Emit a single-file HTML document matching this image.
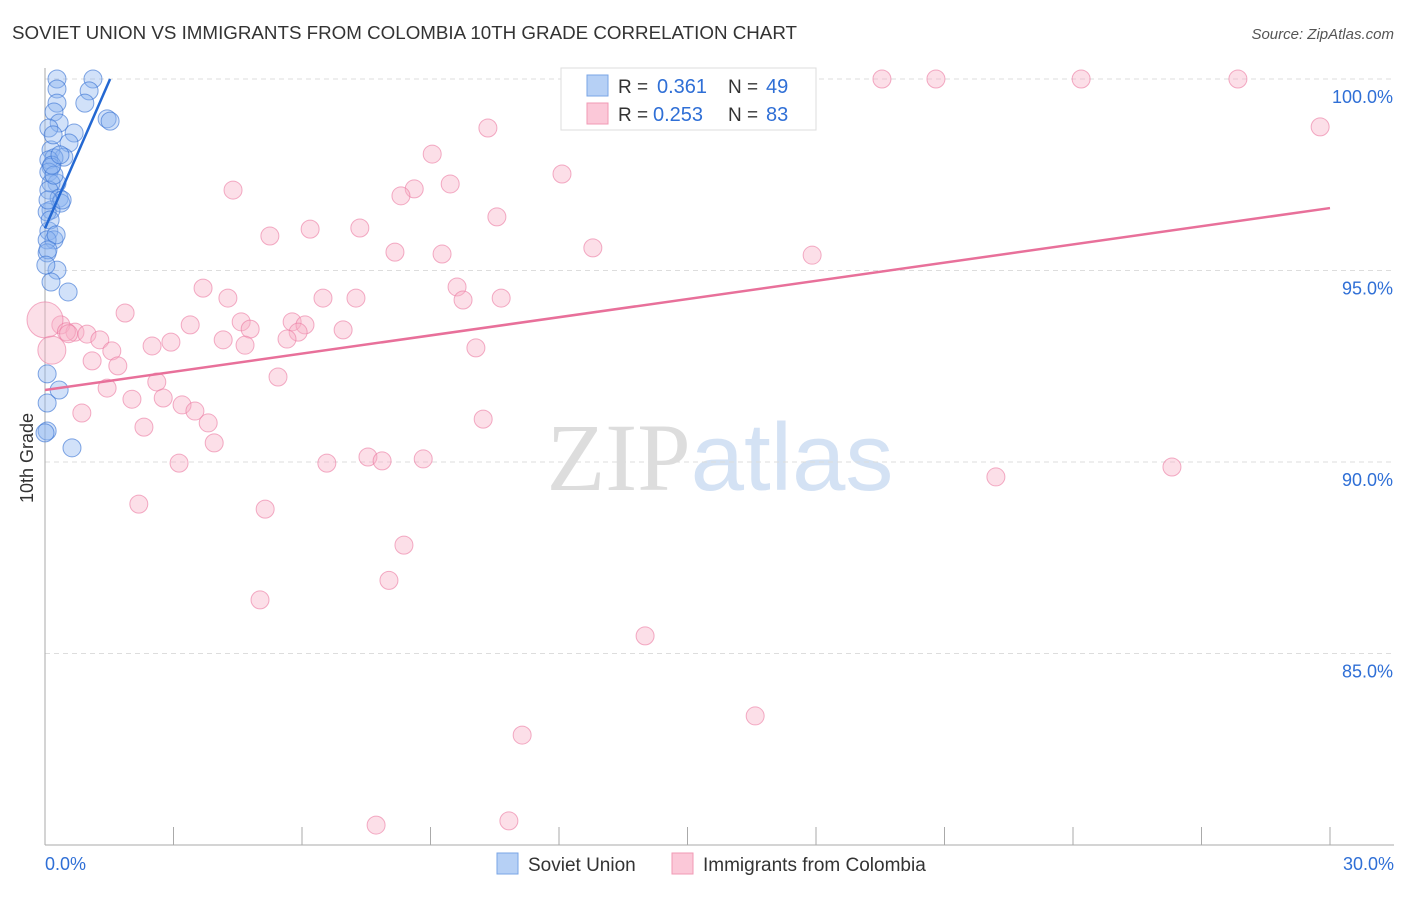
<!DOCTYPE html>
<html><head><meta charset="utf-8"><style>
body{margin:0;background:#fff;font-family:"Liberation Sans",sans-serif}
svg text{font-family:"Liberation Sans",sans-serif}
</style></head><body>
<svg id="chart" width="1406" height="892" xmlns="http://www.w3.org/2000/svg">
<text x="12" y="39" font-size="18" fill="#333" textLength="785" lengthAdjust="spacingAndGlyphs">SOVIET UNION VS IMMIGRANTS FROM COLOMBIA 10TH GRADE CORRELATION CHART</text>
<text x="1394" y="39" font-size="15" fill="#555" text-anchor="end" font-style="italic">Source: ZipAtlas.com</text>
<text x="720" y="490" font-size="96" text-anchor="middle"><tspan fill="#ddd" font-family="Liberation Serif">ZIP</tspan><tspan fill="#d4e2f4">atlas</tspan></text>
<g id="grid"></g><g id="axes"></g><g id="pts"></g><g id="lines"></g>
<text transform="translate(33,458) rotate(-90)" font-size="18" fill="#333" text-anchor="middle">10th Grade</text>
<g>
<rect x="561" y="68" width="255" height="62" fill="#fff" stroke="#ddd"/>
<rect x="587" y="75" width="21" height="21" fill="#b6d0f5" stroke="#7aa6e6"/>
<rect x="587" y="103" width="21" height="21" fill="#fbc8d8" stroke="#f09ab5"/>
<text x="618" y="93" font-size="19" fill="#333">R =</text>
<text x="657" y="93" font-size="20" fill="#2f6fd6">0.361</text>
<text x="728" y="93" font-size="19" fill="#333">N =</text>
<text x="766" y="93" font-size="20" fill="#2f6fd6">49</text>
<text x="618" y="121" font-size="19" fill="#333">R =</text>
<text x="653" y="121" font-size="20" fill="#2f6fd6">0.253</text>
<text x="728" y="121" font-size="19" fill="#333">N =</text>
<text x="766" y="121" font-size="20" fill="#2f6fd6">83</text>
</g>
<g>
<rect x="497" y="853" width="21" height="21" fill="#b6d0f5" stroke="#7aa6e6"/>
<text x="528" y="871" font-size="19" fill="#333">Soviet Union</text>
<rect x="672" y="853" width="21" height="21" fill="#fbc8d8" stroke="#f09ab5"/>
<text x="703" y="871" font-size="19" fill="#333">Immigrants from Colombia</text>
</g>
</svg>
<script>
const yTicks=[100,95,90,85];
const yTickLabels=["100.0%","95.0%","90.0%","85.0%"];
const xTickLabels=["0.0%","30.0%"];
const blueX=[0.28,1.12,0.28,1.03,0.28,0.93,0.21,1.45,1.52,0.33,0.09,0.68,0.56,0.14,0.44,0.21,0.09,0.14,0.09,0.28,0.14,0.09,0.33,0.37,0.14,0.05,0.09,0.21,0.05,0.05,0.28,0.14,0.54,0.05,0.05,0.33,0.05,0,0.63,0.21,0.4,0.16,0.35,0.07,0.12,0.26,0.07,0.02,0.19];
const blueY=[100,100,99.74,99.69,99.37,99.37,99.14,98.96,98.9,98.85,98.72,98.59,98.33,98.15,97.96,97.94,97.89,97.7,97.57,97.28,97.28,97.1,96.89,96.76,96.58,96.53,96.03,95.8,95.8,95.46,95.01,94.7,94.44,92.3,91.54,91.88,90.81,90.76,90.37,97.49,96.84,97.75,98.02,96.84,96.32,95.93,95.54,95.14,98.54];
const pinkX=[13.8,15.29,19.54,20.8,24.19,27.85,29.77,10.34,9.04,12.07,9.46,4.39,8.62,8.31,10.55,6.19,7.35,5.25,12.79,8.17,9.27,17.91,3.69,9.62,4.27,6.49,7.26,9.76,10.65,1.87,3.39,4.58,5.77,6.07,0.37,0.7,0.98,4.79,6.96,5.91,1.28,4.16,2.94,5.65,2.5,4.67,10.06,1.56,1.1,1.7,5.44,2.61,1.45,2.03,2.76,3.2,3.5,0.86,3.81,10.23,2.31,3.95,3.13,6.58,7.54,7.87,8.83,22.2,26.31,2.19,5.14,8.38,8.03,5.02,14.01,16.58,11.14,7.73,10.83,0,0.16,0.5,0.55];
const pinkY=[100,100,100,100,100,100,98.75,98.72,98.04,97.52,97.26,97.1,97.13,96.95,96.4,96.08,96.11,95.9,95.59,95.48,95.43,95.4,94.54,94.57,94.28,94.28,94.28,94.23,94.28,93.89,93.58,93.66,93.66,93.58,93.58,93.39,93.34,93.47,93.45,93.39,93.19,93.19,93.13,93.21,93.03,93.05,92.98,92.9,92.64,92.51,92.22,92.09,91.93,91.64,91.67,91.49,91.33,91.28,91.02,91.12,90.91,90.5,89.97,89.97,90.13,90.03,90.08,89.61,89.87,88.9,88.77,87.83,86.91,86.4,85.46,83.37,82.87,80.52,80.63,93.71,92.92,93.4,93.35];
const pinkR=[];pinkX.forEach((v,i)=>pinkR.push(i===79?18:(i===80?14:9)));
const blueTrend=[0,96.1,1.52,100];
const pinkTrend=[0,91.88,30,96.63];
const sx=v=>45+v*(1330-45)/30;
const sy=v=>79+(100-v)*38.3;
const NS="http://www.w3.org/2000/svg";
function mk(tag,attrs,parent){const e=document.createElementNS(NS,tag);for(const k in attrs)e.setAttribute(k,attrs[k]);document.getElementById(parent).appendChild(e);return e;}
yTicks.forEach((t,i)=>{
 const l=mk('line',{x1:45,x2:1394,y1:sy(t),y2:sy(t),stroke:'#ddd','stroke-dasharray':'5,4'},'grid');
 
 
 const tx=mk('text',{x:1393,y:sy(t)+24,'font-size':18,fill:'#2f6fd6','text-anchor':'end'},'axes');
 tx.textContent=yTickLabels[i];
 
 
});
const ax=mk('line',{x1:45,x2:45,y1:68,y2:845,stroke:'#aaa'},'axes');


const bx=mk('line',{x1:45,x2:1394,y1:845,y2:845,stroke:'#aaa'},'axes');


for(let i=0;i<=10;i++){
 const t=mk('line',{x1:sx(i*3),x2:sx(i*3),y1:827,y2:845,stroke:'#aaa'},'axes');
 
 
}
[[0,'start',45],[1,'end',1394]].forEach(([i,a,x])=>{
 const t=mk('text',{x:x,y:870,'font-size':18,fill:'#2f6fd6','text-anchor':a},'axes');
 t.textContent=xTickLabels[i];
 
 
});
pinkX.forEach((v,i)=>{
 const c=mk('circle',{cx:sx(v),cy:sy(pinkY[i]),r:pinkR[i],fill:'rgba(248,175,198,0.4)',stroke:'rgba(235,120,160,0.6)','stroke-width':1},'pts');
 
 
});
blueX.forEach((v,i)=>{
 const c=mk('circle',{cx:sx(v),cy:sy(blueY[i]),r:9,fill:'rgba(140,180,240,0.4)',stroke:'rgba(50,110,210,0.6)','stroke-width':1},'pts');
 
 
});
const bl=mk('line',{x1:sx(blueTrend[0]),y1:sy(blueTrend[1]),x2:sx(blueTrend[2]),y2:sy(blueTrend[3]),stroke:'#2468d2','stroke-width':2.5},'lines');


const pl=mk('line',{x1:sx(pinkTrend[0]),y1:sy(pinkTrend[1]),x2:sx(pinkTrend[2]),y2:sy(pinkTrend[3]),stroke:'#e8709a','stroke-width':2.5},'lines');


</script>
</body></html>
